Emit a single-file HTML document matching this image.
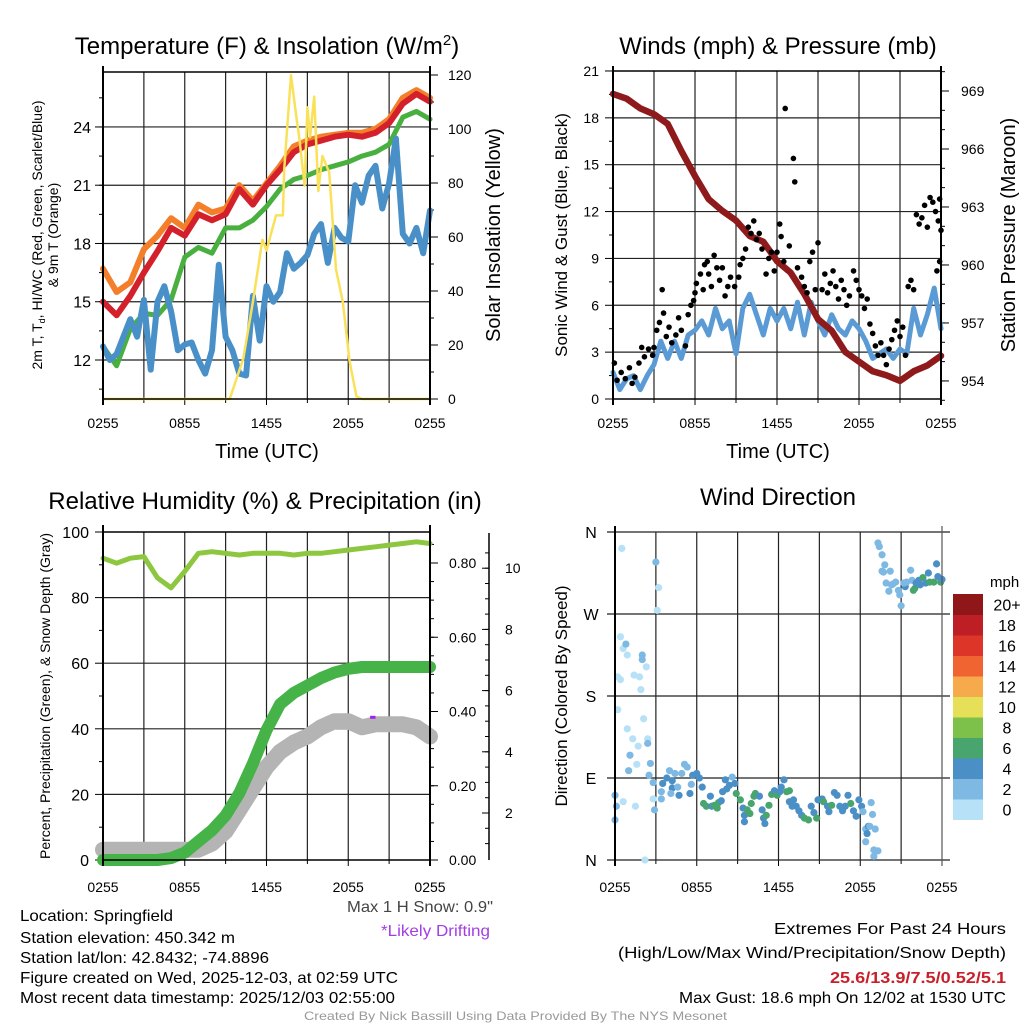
<!DOCTYPE html>
<html><head><meta charset="utf-8"><style>
html,body{margin:0;padding:0;background:#fff;}
svg{display:block;font-family:"Liberation Sans",sans-serif;}
</style></head><body>
<svg id="chart" width="1024" height="1024" viewBox="0 0 1024 1024" xmlns="http://www.w3.org/2000/svg">
<rect x="0" y="0" width="1024" height="1024" fill="#fff"/>
<g id="layer"></g>
<text x="267" y="54" font-size="24" text-anchor="middle" font-family="Liberation Sans, sans-serif">Temperature (F) &amp; Insolation (W/m<tspan dy="-9" font-size="15">2</tspan><tspan dy="9">)</tspan></text>
<text x="778" y="54" font-size="24" text-anchor="middle" font-family="Liberation Sans, sans-serif">Winds (mph) &amp; Pressure (mb)</text>
<text x="265" y="509" font-size="24" text-anchor="middle" font-family="Liberation Sans, sans-serif">Relative Humidity (%) &amp; Precipitation (in)</text>
<text x="778" y="505" font-size="24" text-anchor="middle" font-family="Liberation Sans, sans-serif">Wind Direction</text>
<text x="267" y="458" font-size="20" text-anchor="middle" font-family="Liberation Sans, sans-serif">Time (UTC)</text>
<text x="778" y="458" font-size="20" text-anchor="middle" font-family="Liberation Sans, sans-serif">Time (UTC)</text>
<text transform="translate(42,235) rotate(-90)" font-size="14" text-anchor="middle" font-family="Liberation Sans, sans-serif">2m T, T<tspan font-size="9" dy="3">d</tspan><tspan dy="-3">, HI/WC (Red, Green, Scarlet/Blue)</tspan></text>
<text transform="translate(58,235) rotate(-90)" font-size="14" text-anchor="middle" font-family="Liberation Sans, sans-serif">&amp; 9m T (Orange)</text>
<text transform="translate(500,235) rotate(-90)" font-size="20" text-anchor="middle" font-family="Liberation Sans, sans-serif">Solar Insolation (Yellow)</text>
<text transform="translate(567,235) rotate(-90)" font-size="17" text-anchor="middle" font-family="Liberation Sans, sans-serif">Sonic Wind &amp; Gust (Blue, Black)</text>
<text transform="translate(1015,235) rotate(-90)" font-size="20" text-anchor="middle" font-family="Liberation Sans, sans-serif">Station Pressure (Maroon)</text>
<text transform="translate(50,696) rotate(-90)" font-size="14" text-anchor="middle" font-family="Liberation Sans, sans-serif">Percent, Precipitation (Green), &amp; Snow Depth (Gray)</text>
<text transform="translate(567,696) rotate(-90)" font-size="17" text-anchor="middle" font-family="Liberation Sans, sans-serif">Direction (Colored By Speed)</text>
<text x="990" y="587" font-size="15" text-anchor="start" font-family="Liberation Sans, sans-serif">mph</text>
<g font-size="16" fill="#000">
<text x="20" y="921" textLength="153" lengthAdjust="spacingAndGlyphs">Location: Springfield</text>
<text x="20" y="943" textLength="215" lengthAdjust="spacingAndGlyphs">Station elevation: 450.342 m</text>
<text x="20" y="963" textLength="249" lengthAdjust="spacingAndGlyphs">Station lat/lon: 42.8432; -74.8896</text>
<text x="20" y="983" textLength="378" lengthAdjust="spacingAndGlyphs">Figure created on Wed, 2025-12-03, at 02:59 UTC</text>
<text x="20" y="1003" textLength="375" lengthAdjust="spacingAndGlyphs">Most recent data timestamp: 2025/12/03 02:55:00</text>
<text x="493" y="912" text-anchor="end" fill="#444" textLength="146" lengthAdjust="spacingAndGlyphs">Max 1 H Snow: 0.9"</text>
<text x="490" y="936" text-anchor="end" fill="#a23ee6" textLength="109" lengthAdjust="spacingAndGlyphs">*Likely Drifting</text>
<text x="1006" y="934" text-anchor="end" textLength="232" lengthAdjust="spacingAndGlyphs">Extremes For Past 24 Hours</text>
<text x="1006" y="958" text-anchor="end" textLength="388" lengthAdjust="spacingAndGlyphs">(High/Low/Max Wind/Precipitation/Snow Depth)</text>
<text x="1006" y="983" text-anchor="end" fill="#c8202a" font-weight="bold" textLength="176" lengthAdjust="spacingAndGlyphs">25.6/13.9/7.5/0.52/5.1</text>
<text x="1006" y="1003" text-anchor="end" textLength="327" lengthAdjust="spacingAndGlyphs">Max Gust: 18.6 mph On 12/02 at 1530 UTC</text>
<text x="304" y="1020" text-anchor="start" fill="#999" font-size="12" textLength="423" lengthAdjust="spacingAndGlyphs">Created By Nick Bassill Using Data Provided By The NYS Mesonet</text>
</g>
</svg>
<script>
// ---------- data ----------
var hours = [0,1,2,3,4,5,6,7,8,9,10,11,12,13,14,15,16,17,18,19,20,21,22,23,24];
var halfHours = [0,0.5,1,1.5,2,2.5,3,3.5,4,4.5,5,5.5,6,6.5,7,7.5,8,8.5,9,9.5,10,10.5,11,11.5,12,12.5,13,13.5,14,14.5,15,15.5,16,16.5,17,17.5,18,18.5,19,19.5,20,20.5,21,21.5,22,22.5,23,23.5,24];
var timeTickLabels = ["0255","0855","1455","2055","0255"];
var tempTicks = [12,15,18,21,24];
var solarTicks = [0,20,40,60,80,100,120];
var airTemp = [15.0,14.3,15.3,16.5,17.6,18.8,18.4,19.5,19.2,19.5,20.8,20.0,21.0,21.8,22.7,23.1,23.3,23.5,23.6,23.5,23.7,24.2,25.2,25.7,25.3];
var temp9m = [16.7,15.5,16.0,17.7,18.4,19.3,18.8,20.0,19.6,19.8,21.0,20.2,21.1,22.0,23.0,23.3,23.5,23.6,23.7,23.7,23.9,24.4,25.5,25.9,25.5];
var heatIndex = [12.7,11.7,13.6,14.4,14.3,15.1,17.3,17.8,17.5,18.8,18.8,19.2,19.9,20.8,21.3,21.5,21.8,22.0,22.2,22.5,22.7,23.1,24.5,24.8,24.4];
var dewPoint = [12.7,12.0,12.3,13.2,14.1,13.2,15.1,11.5,15.0,15.8,14.5,12.5,12.8,12.9,12.0,11.3,12.5,16.9,13.2,12.5,11.3,11.2,15.3,13.0,15.8,15.0,15.5,17.5,16.7,17.0,17.4,18.5,19.0,17.0,18.8,18.3,18.1,21.0,20.1,21.5,22.0,19.8,21.1,23.4,18.5,18.0,18.8,17.5,19.7];
var solarHours = [0,9.3,10.3,11,11.7,12,12.7,13.2,13.3,13.8,14.2,14.4,14.8,15,15.2,15.5,15.8,16.1,16.6,17.1,17.6,18.1,18.6,19,24];
var solarValues = [0,0,15,36,59,55,68,68,85,120,104,97,79,108,97,112,77,90,84,48,36,14,1,0,0];

var windTicks = [0,3,6,9,12,15,18,21];
var pressureTicks = [954,957,960,963,966,969];
var windSpeed = [1.7,0.6,1.3,1.5,0.6,1.5,2.2,3.7,2.6,3.7,2.6,4.1,4.4,5.0,4.1,5.8,4.5,5.0,2.9,5.8,6.7,5.4,4.1,5.8,5.0,5.8,4.5,6.2,4.1,6.2,5.0,4.1,5.4,4.5,4.1,5.0,4.5,3.7,2.6,2.9,3.2,2.6,3.2,2.9,5.8,4.1,5.4,7.1,4.5];
var pressure = [968.85,968.6,968.1,967.8,967.3,965.9,964.6,963.4,962.8,962.3,961.5,961.2,960.2,959.6,958.5,957.2,956.6,955.5,955.0,954.5,954.3,954.0,954.5,954.8,955.3];
var gustHours = [0.1,0.3,0.6,0.9,1.2,1.4,1.6,1.9,2.1,2.3,2.6,2.9,3.0,3.2,3.4,3.6,3.7,3.9,4.1,4.3,4.6,4.8,5.0,5.3,5.5,5.7,5.9,6.0,6.1,6.4,6.6,6.7,6.9,7.0,7.2,7.4,7.6,7.8,8.0,8.2,8.4,8.6,8.9,9.2,9.3,9.5,9.7,9.9,10.1,10.3,10.5,10.7,10.9,11.2,11.4,11.6,11.8,12.0,12.2,12.3,12.5,12.6,12.9,13.2,13.3,13.5,13.8,14.0,14.2,14.4,14.6,14.8,15.0,15.3,15.5,15.7,15.9,16.1,16.3,16.5,16.7,16.9,17.1,17.3,17.6,17.8,18.0,18.2,18.4,18.6,18.8,19.0,19.2,19.4,19.6,19.8,20.0,20.2,20.4,20.6,20.8,21.0,21.2,21.4,21.6,21.8,22.0,22.2,22.4,22.6,22.8,23.0,23.2,23.4,23.6,23.8,23.9,24.0,23.7,23.9];
var gustValues = [2.3,1.2,1.7,1.3,2.0,1.0,1.4,2.3,3.3,2.7,3.2,2.8,3.3,4.4,4.9,7.0,5.5,4.0,4.6,3.6,4.1,5.2,4.4,3.4,5.4,6.0,6.3,6.8,7.4,8.0,7.0,8.6,8.8,8.0,7.2,9.2,8.4,7.6,8.4,6.6,7.2,7.8,7.2,7.8,8.6,9.0,9.6,11.0,10.6,11.4,10.2,10.6,9.6,8.0,9.0,9.4,8.2,9.4,11.2,10.4,8.8,18.6,9.8,15.4,13.9,8.4,7.8,7.2,6.8,8.8,9.4,7.0,10.0,7.0,8.0,6.8,7.4,8.2,7.2,6.4,7.6,7.0,6.0,6.6,8.2,7.6,7.0,6.6,5.8,6.4,4.8,4.2,3.4,2.8,3.6,2.8,2.2,3.2,3.8,4.4,5.0,4.0,4.6,2.8,7.2,7.6,7.0,11.8,11.2,11.6,12.4,11.0,12.9,12.6,12.0,11.4,12.8,10.8,8.2,8.8];

var rhTicks = [0,20,40,60,80,100];
var precipTicks = [0,0.2,0.4,0.6,0.8];
var precipTickLabels = ["0.00","0.20","0.40","0.60","0.80"];
var snowTicks = [2,4,6,8,10];
var relHumidity = [92,90.5,92,92.5,86,83,88,93.5,94,93.5,93,93.5,93.5,93.5,93,93.5,93.5,94,94.5,95,95.5,96,96.5,97,96.5];
var precip = [0,0,0,0,0,0.005,0.02,0.05,0.08,0.12,0.18,0.26,0.35,0.42,0.45,0.47,0.49,0.505,0.515,0.52,0.52,0.52,0.52,0.52,0.52];
var snowDepth = [0.8,0.8,0.8,0.8,0.8,0.8,0.8,0.8,1.0,1.4,2.1,2.8,3.5,4.0,4.3,4.5,4.8,5.0,5.0,4.8,4.9,4.9,4.9,4.8,4.5];
var driftHours = [19.6,20.0];
var driftValue = [43.5,43.5];

var dirTickLabels = ["N","E","S","W","N"];
var dirTicks = [0,90,180,270,360];
var dirHours = [0.5,0.0,0.1,0.0,0.4,0.6,0.8,0.9,0.2,0.4,0.2,0.9,1.3,1.7,1.1,1.0,1.6,0.6,1.5,2.0,2.0,2.3,1.4,1.8,1.9,2.1,2.4,2.4,2.6,2.5,2.8,2.2,3.0,3.2,3.1,2.8,2.9,3.4,3.4,3.5,3.8,4.0,4.2,4.2,4.1,4.4,4.6,4.7,4.9,5.1,5.3,5.5,5.6,5.7,6.0,6.2,6.4,6.5,6.7,7.0,7.1,7.3,7.6,7.5,7.8,7.9,8.1,8.2,8.4,8.6,8.8,8.9,9.2,9.4,9.5,9.5,9.7,9.9,10.0,10.2,10.3,10.6,10.8,10.9,11.0,11.1,11.3,11.5,11.7,11.9,12.1,12.2,12.4,12.6,12.8,13.0,12.8,13.1,13.3,13.5,13.7,13.9,14.2,14.4,14.6,14.8,14.9,15.2,15.3,15.6,15.7,15.9,16.1,16.3,16.5,16.7,16.9,17.1,17.3,17.5,17.7,17.9,18.1,18.2,18.4,18.5,18.6,18.7,18.8,18.9,19.1,18.4,19.0,19.3,19.0,19.3,19.4,19.6,19.8,19.7,19.6,20.2,19.9,20.1,20.3,20.6,20.8,20.9,21.0,21.3,21.4,21.7,21.8,21.9,22.0,22.1,22.3,22.4,22.6,22.8,23.0,23.1,23.4,23.6,23.7,23.9,24.0,20.4,21.2];
var dirDegrees = [342,71,59,44,245,232,237,225,201,198,165,144,133,125,115,98,105,64,59,225,220,212,203,201,187,155,133,128,106,93,85,0,327,299,274,67,55,67,75,84,90,98,87,79,73,95,80,71,95,105,102,73,83,93,95,90,80,62,59,70,59,60,63,57,65,75,88,78,82,91,84,73,66,57,49,42,55,51,62,70,73,70,55,46,40,49,60,72,76,71,75,80,88,75,64,59,76,66,59,54,49,46,44,59,52,46,66,67,64,59,53,60,74,71,59,54,59,71,62,54,48,66,59,53,34,29,37,37,63,50,34,20,11,10,4,348,344,335,324,316,317,317,304,295,302,305,296,291,279,300,305,318,307,296,298,304,307,302,310,304,315,305,305,325,311,305,308,303,304];
var dirSpeeds = [1,3,3,3,1,1,3,1,1,1,1,1,1,1,3,3,1,1,1,3,3,1,1,1,1,1,1,3,3,3,3,1,3,1,1,1,3,3,3,5,5,3,5,5,3,3,3,5,3,3,3,5,3,5,5,5,5,7,7,5,5,7,7,7,5,5,5,5,5,3,5,7,7,5,5,5,7,7,7,7,7,5,5,5,5,7,7,7,5,7,5,5,5,7,5,5,7,5,5,5,5,7,7,5,5,7,5,5,7,5,5,7,5,5,5,5,5,5,7,5,5,5,5,3,3,5,5,3,3,3,3,3,3,3,3,3,3,3,3,3,3,3,3,3,3,3,3,3,3,5,3,3,3,7,7,5,5,5,7,5,5,7,7,5,5,7,5,3,3];
var speedBins = [0,2,4,6,8,10,12,14,16,18,20];
var speedBinLabels = ["0","2","4","6","8","10","12","14","16","18","20+"];
var speedColors = ["#b7e1f7","#7eb9e4","#4a90c7","#48a56e","#7dc14b","#e6df58","#f6aa4b","#ef6431","#de3529","#bd1f25","#8f171a"];

// ---------- helpers ----------
var NS = "http://www.w3.org/2000/svg";
var layer = document.getElementById("layer");
function mk(tag, attrs, parent) {
  var e = document.createElementNS(NS, tag);
  for (var k in attrs) e.setAttribute(k, attrs[k]);
  (parent || layer).appendChild(e);
  return e;
}
function txt(s, x, y, size, anchor, parent) {
  var t = mk("text", {x: x, y: y, "font-size": size, "text-anchor": anchor || "middle", "font-family": "Liberation Sans, sans-serif"}, parent);
  t.textContent = s;
  return t;
}
function pathFrom(xs, ys, sx, sy) {
  var d = "";
  for (var i = 0; i < xs.length; i++) d += (i ? "L" : "M") + sx(xs[i]).toFixed(1) + "," + sy(ys[i]).toFixed(1);
  return d;
}
function panelFrame(L, T, R, B, name) {
  var g = mk("g", {});
  
  
  return g;
}
function timeGrid(g, L, T, R, B, sx, labelY) {
  for (var h = 3; h < 24; h += 3) {
    var gl = mk("line", {x1: sx(h), y1: T, x2: sx(h), y2: B, stroke: "#222", "stroke-width": 1.2}, g);
    
    
  }
  for (var i = 0; i < timeTickLabels.length; i++) {
    var h2 = i * 6;
    mk("line", {x1: sx(h2), y1: B, x2: sx(h2), y2: B + 6, stroke: "#000", "stroke-width": 1}, g);
    var tl = txt(timeTickLabels[i], sx(h2), labelY, 14, "middle", g);
    
    
  }
  for (var h3 = 3; h3 < 24; h3 += 6) mk("line", {x1: sx(h3), y1: B, x2: sx(h3), y2: B + 4, stroke: "#000"}, g);
}
function hGrid(g, L, R, y) {
  var l = mk("line", {x1: L, y1: y, x2: R, y2: y, stroke: "#222", "stroke-width": 1.2}, g);
  
  
}

// ---------- Panel 1: temperature ----------
(function(){
  var L = 103, R = 430, T = 72, B = 399;
  var g = panelFrame(L, T, R, B, "temperature-panel");
  var sx = function(h){ return L + h * (R - L) / 24; };
  var sy = function(v){ return 360 - (v - 12) * 19.42; };
  var ss = function(v){ return 399 - v * 2.7; };
  timeGrid(g, L, T, R, B, sx, 428);
  for (var i = 0; i < tempTicks.length; i++) {
    hGrid(g, L, R, sy(tempTicks[i]));
    mk("line", {x1: L - 8, y1: sy(tempTicks[i]), x2: L, y2: sy(tempTicks[i]), stroke: "#000"}, g);
    var tl = txt(String(tempTicks[i]), L - 12, sy(tempTicks[i]) + 6, 16, "end", g);
    
    
  }
  for (var v = 10.5; v < 27; v += 1.5) mk("line", {x1: L - 4, y1: sy(v), x2: L, y2: sy(v), stroke: "#000"}, g);
  for (var j = 0; j < solarTicks.length; j++) {
    mk("line", {x1: R, y1: ss(solarTicks[j]), x2: R + 8, y2: ss(solarTicks[j]), stroke: "#000"}, g);
    var sl = txt(String(solarTicks[j]), R + 18, ss(solarTicks[j]) + 5, 14, "start", g);
    
    
  }
  for (var s = 10; s < 122; s += 20) mk("line", {x1: R, y1: ss(s), x2: R + 4, y2: ss(s), stroke: "#000"}, g);
  var p;
  p = mk("path", {d: pathFrom(hours, temp9m, sx, sy), fill: "none", stroke: "#f47f2a", "stroke-width": 6, "stroke-linejoin": "round", "stroke-linecap": "round"}, g);
  
  
  p = mk("path", {d: pathFrom(hours, airTemp, sx, sy), fill: "none", stroke: "#d3202a", "stroke-width": 6, "stroke-linejoin": "round", "stroke-linecap": "round"}, g);
  
  
  p = mk("path", {d: pathFrom(hours, heatIndex, sx, sy), fill: "none", stroke: "#49b040", "stroke-width": 5, "stroke-linejoin": "round", "stroke-linecap": "round"}, g);
  
  
  p = mk("path", {d: pathFrom(halfHours, dewPoint, sx, sy), fill: "none", stroke: "#4a90c8", "stroke-width": 6, "stroke-linejoin": "round", "stroke-linecap": "round"}, g);
  
  
  p = mk("path", {d: pathFrom(solarHours, solarValues, sx, ss), fill: "none", stroke: "#f9e25a", "stroke-width": 2.5, "stroke-linejoin": "round"}, g);
  
  
  mk("line", {x1: L, y1: T, x2: R, y2: T, stroke: "#000", "stroke-width": 1.5}, g);
  mk("line", {x1: L, y1: B, x2: R, y2: B, stroke: "#000", "stroke-width": 1.5}, g);
  var ax = mk("line", {x1: L, y1: 66, x2: L, y2: 405, stroke: "#000", "stroke-width": 2}, g);
  
  
  var ax2 = mk("line", {x1: R, y1: 66, x2: R, y2: 405, stroke: "#000", "stroke-width": 2}, g);
  
  
})();

// ---------- Panel 2: wind & pressure ----------
(function(){
  var L = 613, R = 941, T = 71, B = 399;
  var g = panelFrame(L, T, R, B, "wind-panel");
  var sx = function(h){ return L + h * (R - L) / 24; };
  var sy = function(v){ return 399 - v * 15.62; };
  var sp = function(v){ return 91 + (969 - v) * 19.33; };
  timeGrid(g, L, T, R, B, sx, 428);
  for (var i = 0; i < windTicks.length; i++) {
    if (windTicks[i] > 0 && windTicks[i] < 21) hGrid(g, L, R, sy(windTicks[i]));
    mk("line", {x1: L - 8, y1: sy(windTicks[i]), x2: L, y2: sy(windTicks[i]), stroke: "#000"}, g);
    var tl = txt(String(windTicks[i]), L - 14, sy(windTicks[i]) + 5, 14, "end", g);
    
    
  }
  for (var v = 1.5; v < 21; v += 3) mk("line", {x1: L - 4, y1: sy(v), x2: L, y2: sy(v), stroke: "#000"}, g);
  for (var j = 0; j < pressureTicks.length; j++) {
    mk("line", {x1: R, y1: sp(pressureTicks[j]), x2: R + 8, y2: sp(pressureTicks[j]), stroke: "#000"}, g);
    var pl = txt(String(pressureTicks[j]), R + 20, sp(pressureTicks[j]) + 5, 14, "start", g);
    
    
  }
  for (var q = 953; q < 971; q += 1) mk("line", {x1: R, y1: sp(q), x2: R + 4, y2: sp(q), stroke: "#000"}, g);
  var p = mk("path", {d: pathFrom(halfHours, windSpeed, sx, sy), fill: "none", stroke: "#5b9bd5", "stroke-width": 5, "stroke-linejoin": "round", "stroke-linecap": "round"}, g);
  
  
  p = mk("path", {d: pathFrom(hours, pressure, sx, sp), fill: "none", stroke: "#8e1a1c", "stroke-width": 6.5, "stroke-linejoin": "round", "stroke-linecap": "round"}, g);
  
  
  for (var k = 0; k < gustHours.length; k++) {
    var c = mk("circle", {cx: sx(gustHours[k]), cy: sy(gustValues[k]), r: 2.8, fill: "#000"}, g);
    
    
  }
  mk("line", {x1: L, y1: T, x2: R, y2: T, stroke: "#000", "stroke-width": 1.5}, g);
  mk("line", {x1: L, y1: B, x2: R, y2: B, stroke: "#000", "stroke-width": 1.5}, g);
  var ax = mk("line", {x1: L, y1: 66, x2: L, y2: 405, stroke: "#000", "stroke-width": 2}, g);
  
  
  var ax2 = mk("line", {x1: R, y1: 66, x2: R, y2: 405, stroke: "#000", "stroke-width": 2}, g);
  
  
})();

// ---------- Panel 3: RH & precip ----------
(function(){
  var L = 103, R = 430, T = 532, B = 860;
  var g = panelFrame(L, T, R, B, "humidity-panel");
  var sx = function(h){ return L + h * (R - L) / 24; };
  var sy = function(v){ return 860 - v * 3.28; };
  var spp = function(v){ return 860 - v * 371.25; };
  var ssn = function(v){ return 874.2 - v * 30.6; };
  timeGrid(g, L, T, R, B, sx, 892);
  for (var i = 0; i < rhTicks.length; i++) {
    if (rhTicks[i] > 0 && rhTicks[i] < 100) hGrid(g, L, R, sy(rhTicks[i]));
    mk("line", {x1: L - 8, y1: sy(rhTicks[i]), x2: L, y2: sy(rhTicks[i]), stroke: "#000"}, g);
    var tl = txt(String(rhTicks[i]), L - 14, sy(rhTicks[i]) + 6, 16, "end", g);
    
    
  }
  for (var v = 10; v < 100; v += 20) mk("line", {x1: L - 4, y1: sy(v), x2: L, y2: sy(v), stroke: "#000"}, g);
  for (var j = 0; j < precipTicks.length; j++) {
    mk("line", {x1: R, y1: spp(precipTicks[j]), x2: R + 8, y2: spp(precipTicks[j]), stroke: "#000"}, g);
    var pl = txt(precipTickLabels[j], R + 19, spp(precipTicks[j]) + 5, 14, "start", g);
    
    
  }
  for (var q = 0.05; q < 0.9; q += 0.05) mk("line", {x1: R, y1: spp(q), x2: R + 4, y2: spp(q), stroke: "#000"}, g);
  var sax = mk("line", {x1: 489, y1: 533, x2: 489, y2: 860, stroke: "#000", "stroke-width": 1.5}, g);
  
  
  for (var s = 0; s < snowTicks.length; s++) {
    mk("line", {x1: 482, y1: ssn(snowTicks[s]), x2: 489, y2: ssn(snowTicks[s]), stroke: "#000"}, g);
    var sl = txt(String(snowTicks[s]), 505, ssn(snowTicks[s]) + 5, 14, "start", g);
    
    
  }
  for (var s2 = 1; s2 < 11; s2 += 0.5) mk("line", {x1: 485, y1: ssn(s2), x2: 489, y2: ssn(s2), stroke: "#000"}, g);
  var p = mk("path", {d: pathFrom(hours, snowDepth, sx, ssn), fill: "none", stroke: "#b4b4b4", "stroke-width": 16, "stroke-linejoin": "round", "stroke-linecap": "round"}, g);
  
  
  p = mk("path", {d: pathFrom(hours, precip, sx, spp), fill: "none", stroke: "#45b347", "stroke-width": 12, "stroke-linejoin": "round", "stroke-linecap": "round"}, g);
  
  
  p = mk("path", {d: pathFrom(hours, relHumidity, sx, sy), fill: "none", stroke: "#8dc63f", "stroke-width": 5, "stroke-linejoin": "round", "stroke-linecap": "round"}, g);
  
  
  p = mk("path", {d: pathFrom(driftHours, driftValue, sx, sy), fill: "none", stroke: "#a020f0", "stroke-width": 3}, g);
  
  
  mk("line", {x1: L, y1: T, x2: R, y2: T, stroke: "#000", "stroke-width": 1.5}, g);
  mk("line", {x1: L, y1: B, x2: R, y2: B, stroke: "#000", "stroke-width": 1.5}, g);
  var ax = mk("line", {x1: L, y1: 525, x2: L, y2: 866, stroke: "#000", "stroke-width": 2}, g);
  
  
  var ax2 = mk("line", {x1: R, y1: 525, x2: R, y2: 866, stroke: "#000", "stroke-width": 2}, g);
  
  
})();

// ---------- Panel 4: wind direction ----------
(function(){
  var L = 615, R = 942, T = 532, B = 860;
  var g = panelFrame(L, T, R, B, "direction-panel");
  var sx = function(h){ return L + h * (R - L) / 24; };
  var sy = function(d){ return 860 - d / 360 * 328; };
  timeGrid(g, L, T, R, B, sx, 892);
  for (var i = 0; i < dirTicks.length; i++) {
    var l = mk("line", {x1: L - 8, y1: sy(dirTicks[i]), x2: R + 8, y2: sy(dirTicks[i]), stroke: "#222", "stroke-width": 1.2}, g);
    
    
    var tl = txt(dirTickLabels[i], 591, sy(dirTicks[i]) + 6, 16, "middle", g);
    
    
  }
  function colorFor(s) {
    var idx = 0;
    for (var b = 0; b < speedBins.length; b++) if (s >= speedBins[b]) idx = b;
    return speedColors[idx];
  }
  for (var k = 0; k < dirHours.length; k++) {
    var c = mk("circle", {cx: sx(dirHours[k]), cy: sy(dirDegrees[k]), r: 3.6, fill: colorFor(dirSpeeds[k])}, g);
    
    
  }
  var ax = mk("line", {x1: L, y1: 526, x2: L, y2: 866, stroke: "#000", "stroke-width": 2}, g);
  
  
  mk("line", {x1: R, y1: 526, x2: R, y2: 866, stroke: "#555", "stroke-width": 1.2}, g);
  var cbTop = 594, cbH = 20.5;
  for (var n = 0; n < speedColors.length; n++) {
    var y = cbTop + (speedColors.length - 1 - n) * cbH;
    var r = mk("rect", {x: 953, y: y, width: 30, height: cbH + 0.5, fill: speedColors[n]}, g);
    
    
    var lb = txt(speedBinLabels[n], 1007, y + cbH / 2 + 6, 16, "middle", g);
    
    
  }
})();
</script>
</body></html>
